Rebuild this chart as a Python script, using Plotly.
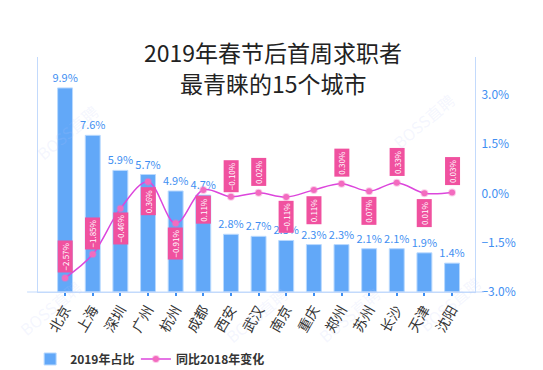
import plotly.graph_objects as go

cities = ["北京", "上海", "深圳", "广州", "杭州", "成都", "西安", "武汉", "南京", "重庆", "郑州", "苏州", "长沙", "天津", "沈阳"]
share_2019 = [9.9, 7.6, 5.9, 5.7, 4.9, 4.7, 2.8, 2.7, 2.5, 2.3, 2.3, 2.1, 2.1, 1.9, 1.4]
yoy_change = [-2.57, -1.85, -0.46, 0.36, -0.91, 0.11, -0.10, 0.02, -0.11, 0.11, 0.30, 0.07, 0.33, 0.01, 0.03]
label_above = [True, True, False, False, False, False, True, True, False, False, True, False, True, False, True]
y2_ticks = [-3.0, -1.5, 0.0, 1.5, 3.0]
y2_ticktext = ["−3.0%", "−1.5%", "0.0%", "1.5%", "3.0%"]
title_lines = ["2019年春节后首周求职者", "最青睐的15个城市"]

FONT = "Noto Sans CJK SC, Noto Sans, sans-serif"
BLUE_TXT = "#3f8ff2"
AXIS = "#c3dafc"

fig = go.Figure()
fig.add_trace(go.Bar(
    x=cities, y=share_2019, name="2019年占比", width=0.54, legend="legend",
    marker=dict(color="#62a8f8", line=dict(color="#b9d9fe", width=1)),
    text=[f"{v:.1f}%" for v in share_2019], textposition="outside", constraintext="none",
    textfont=dict(color=BLUE_TXT, size=11, family=FONT), cliponaxis=False,
))
fig.add_trace(go.Scatter(
    x=cities, y=yoy_change, name="同比2018年变化", yaxis="y2", legend="legend2",
    mode="lines+markers", line=dict(color="#dc46dc", width=1.5, shape="spline", smoothing=1.0),
    marker=dict(size=6, color="#f36cbf", line=dict(color="rgba(243,108,191,0.35)", width=2)),
    cliponaxis=False,
))

annotations = []
for c, v, up in zip(cities, yoy_change, label_above):
    annotations.append(dict(
        x=c, y=v, xref="x", yref="y2", text=f"{v:.2f}%".replace("-", "−"),
        showarrow=False, textangle=-90, yshift=21 if up else -20,
        font=dict(color="white", size=8, family=FONT), bgcolor="#f0519f", borderpad=1.5,
    ))

# title as two lines
for txt, yy in zip(title_lines, [1.021, 0.889]):
    annotations.append(dict(
        x=0.538, y=yy, xref="paper", yref="paper", text=txt, showarrow=False,
        xanchor="center", yanchor="middle",
        font=dict(size=23, color="#222222", family=FONT, weight=400),
    ))

# faint watermark
for xx, yy in [(-0.02, 0.83), (0.97, 0.88), (-0.06, -0.22), (0.5, -0.25), (0.8, -0.25), (1.03, -0.2)]:
    annotations.append(dict(
        x=xx, y=yy, xref="paper", yref="paper", text="BOSS直聘", showarrow=False,
        textangle=-40, font=dict(size=16, color="rgba(185,198,250,0.16)", family=FONT),
    ))

leg_font = dict(size=12, color="#333333", family=FONT, weight=600)
# page body has an 8px default margin, so the figure is sized to fit the 543x370 window
fig.update_layout(
    width=535, height=362,
    margin=dict(l=30, r=68, t=49, b=78, autoexpand=False),
    paper_bgcolor="white", plot_bgcolor="white",
    font=dict(family=FONT, color="#333333"),
    bargap=0.46,
    showlegend=True,
    legend=dict(orientation="h", x=-0.018, y=-0.285, xanchor="left", yanchor="middle", font=leg_font),
    legend2=dict(orientation="h", x=0.224, y=-0.285, xanchor="left", yanchor="middle", font=leg_font),
    xaxis=dict(range=[-0.98, 14.83], tickangle=-60, tickfont=dict(size=14, color="#333333", family=FONT),
               showline=True, linecolor=AXIS, linewidth=1, ticks="outside", ticklen=3, tickwidth=2,
               tickcolor=BLUE_TXT, showgrid=False, zeroline=False, automargin=False),
    yaxis=dict(range=[0, 11.4], showticklabels=False, showgrid=False, zeroline=False,
               showline=True, linecolor=AXIS, linewidth=1, ticks="", automargin=False),
    yaxis2=dict(overlaying="y", side="right", range=[-3, 4.157], tickvals=y2_ticks, ticktext=y2_ticktext,
                showgrid=False, zeroline=False, automargin=False,
                showline=True, linecolor=AXIS, linewidth=1, ticks="", ticklabelstandoff=3,
                tickfont=dict(size=12, color=BLUE_TXT, family=FONT)),
    annotations=annotations,
    shapes=[dict(type="line", xref="paper", yref="paper", x0=-0.025, x1=1.02, y0=0, y1=0,
                 line=dict(color=AXIS, width=1))],
)

fig.write_html("out.html")
